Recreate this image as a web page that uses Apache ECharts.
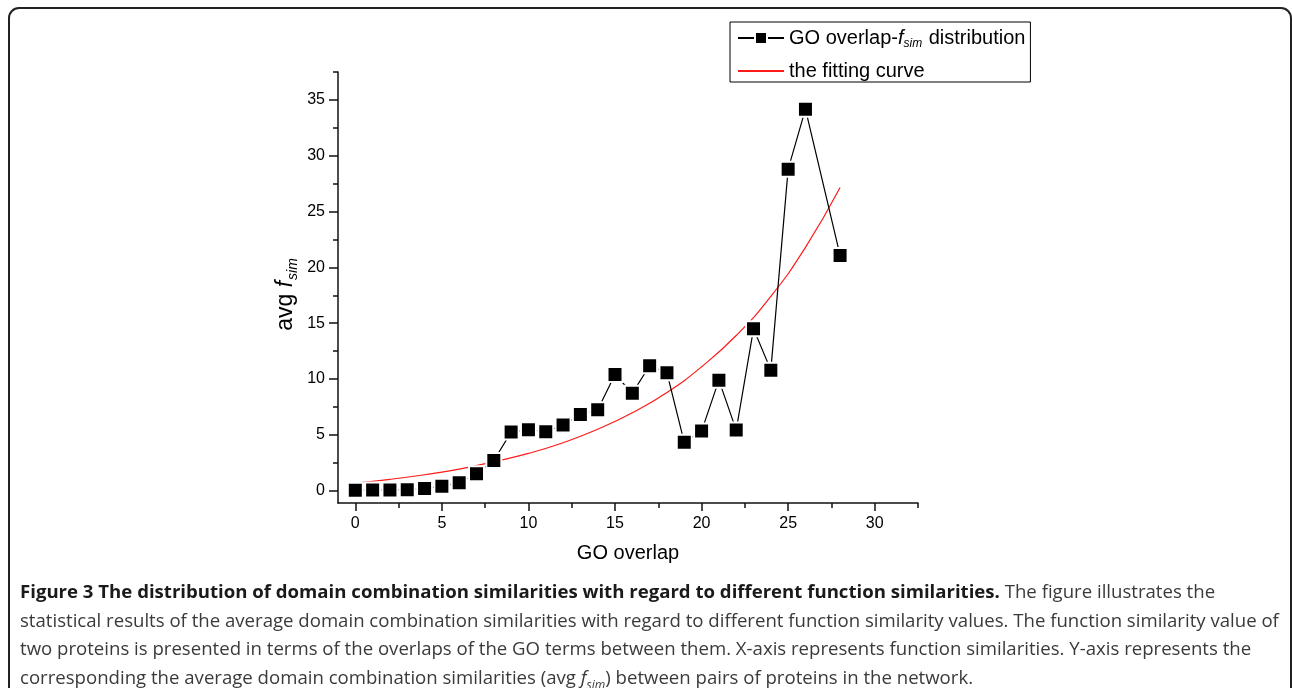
<!DOCTYPE html>
<html>
<head>
<meta charset="utf-8">
<script src="https://cdn.jsdelivr.net/npm/echarts@6/dist/echarts.min.js"></script>
<style>
	html, body {
		margin: 0;
		padding: 0;
		background: #fff;
	}
	.frame {
		position: absolute;
		left: 8px;
		top: 7px;
		right: 0;
		bottom: -30px;
		border: 2px solid #222;
		border-radius: 11px;
	}
	#myChart {
		position: absolute;
		left: 0;
		top: 0;
		width: 1292px;
		height: 688px;
	}
	.caption {
		position: absolute;
		left: 20px;
		top: 577px;
		font-family: "Open Sans", "Noto Sans", sans-serif;
		font-size: 18.6px;
		line-height: 28.6px;
		color: #3a3a3a;
		white-space: nowrap;
	}
	.caption b {
		color: #1a1a1a;
	}
	.caption sub {
		font-size: 12px;
		line-height: 0;
	}
</style>
</head>
<body>
<div class="frame"></div>
<div id="myChart"></div>
<div class="caption">
	<b>Figure 3 The distribution of domain combination similarities with regard to different function similarities.</b> The figure illustrates the<br>
	statistical results of the average domain combination similarities with regard to different function similarity values. The function similarity value of<br>
	two proteins is presented in terms of the overlaps of the GO terms between them. X-axis represents function similarities. Y-axis represents the<br>
	corresponding the average domain combination similarities (avg <i>f<sub>sim</sub></i>) between pairs of proteins in the network.
</div>

<script>
// GO overlap values and the average f_sim
const goOverlap = [0, 1, 2, 3, 4, 5, 6, 7, 8, 9, 10, 11, 12, 13, 14, 15, 16, 17, 18, 19, 20, 21, 22, 23, 24, 25, 26, 28];
const avgFsim = [0.05, 0.06, 0.07, 0.09, 0.2, 0.39, 0.72, 1.52, 2.71, 5.25, 5.46, 5.28, 5.88, 6.83, 7.25, 10.41, 8.74, 11.19, 10.56, 4.33, 5.34, 9.9, 5.43, 14.5, 10.8, 28.8, 34.17, 21.07];

// fitting curve
const fitX = [0, 2, 4, 6, 8, 10, 12, 14, 16, 18, 20, 22, 24, 26, 28];
const fitY = [0.69, 1.02, 1.43, 1.93, 2.6, 3.34, 4.3, 5.5, 6.98, 8.8, 11.1, 13.9, 17.4, 21.8, 27.15];

// tick labels
const xTicks = [0, 5, 10, 15, 20, 25, 30];
const xMinorTicks = [2.5, 7.5, 12.5, 17.5, 22.5, 27.5, 32.5];
const yTicks = [0, 5, 10, 15, 20, 25, 30, 35];
const yMinorTicks = [2.5, 7.5, 12.5, 17.5, 22.5, 27.5, 32.5, 37.5];

const X_MIN = -1, X_MAX = 32.5;
const Y_MIN = -1.1, Y_MAX = 37.5;

const myChart = echarts.init(document.getElementById('myChart'));

const axisColor = '#111';
const fontFamily = '"Liberation Sans", Arial, sans-serif';

const option = {
	animation: false,
	textStyle: {
		fontFamily: fontFamily,
	},
	legend: {
		orient: 'vertical',
		left: 730,
		top: 22,
		padding: [6, 5, 1, 7],
		itemGap: 11,
		itemWidth: 46,
		itemHeight: 15,
		borderColor: '#000',
		borderWidth: 1,
		data: [
			{ name: 'GO overlap-fsim distribution' },
			{ name: 'the fitting curve', itemStyle: { opacity: 0 } },
		],
		formatter: function (name) {
			if (name === 'GO overlap-fsim distribution') {
				return 'GO overlap-{it|f}{sub|sim} distribution';
			}
			return name;
		},
		textStyle: {
			color: '#000',
			fontSize: 20,
			fontFamily: fontFamily,
			rich: {
				it: {
					fontSize: 20,
					fontStyle: 'italic',
					fontFamily: fontFamily,
				},
				sub: {
					fontSize: 12,
					fontStyle: 'italic',
					fontFamily: fontFamily,
					padding: [12, 1, 0, 0],
				},
			},
		},
	},
	grid: {
		left: 338,
		right: 374,
		top: 72,
		bottom: 185,
		containLabel: false,
	},
	xAxis: [
		{
			type: 'value',
			min: X_MIN,
			max: X_MAX,
			name: 'GO overlap',
			nameLocation: 'middle',
			nameGap: 40,
			nameTextStyle: {
				color: '#000',
				fontSize: 20,
			},
			splitLine: { show: false },
			axisLine: {
				onZero: false,
				lineStyle: { color: axisColor, width: 1.5 },
			},
			axisTick: {
				customValues: xTicks,
				length: 8,
				lineStyle: { color: axisColor, width: 1.5 },
			},
			axisLabel: {
				customValues: xTicks,
				margin: 13,
				color: '#000',
				fontSize: 16,
			},
		},
		{
			// minor ticks only
			type: 'value',
			position: 'bottom',
			min: X_MIN,
			max: X_MAX,
			splitLine: { show: false },
			axisLine: { show: false, onZero: false },
			axisLabel: { show: false },
			axisTick: {
				customValues: xMinorTicks,
				length: 5,
				lineStyle: { color: axisColor, width: 1.5 },
			},
		},
	],
	yAxis: [
		{
			type: 'value',
			min: Y_MIN,
			max: Y_MAX,
			name: 'avg {it|f}{sub|sim}',
			nameLocation: 'middle',
			nameRotate: 90,
			nameGap: 38,
			nameTextStyle: {
				color: '#000',
				fontSize: 23,
				padding: [0, 14, 0, 0],
				rich: {
					it: {
						fontSize: 23,
						fontStyle: 'italic',
						fontFamily: fontFamily,
					},
					sub: {
						fontSize: 14,
						fontStyle: 'italic',
						fontFamily: fontFamily,
						padding: [15, 0, 0, 1],
					},
				},
			},
			splitLine: { show: false },
			axisLine: {
				onZero: false,
				lineStyle: { color: axisColor, width: 1.5 },
			},
			axisTick: {
				customValues: yTicks,
				length: 9,
				lineStyle: { color: axisColor, width: 1.5 },
			},
			axisLabel: {
				customValues: yTicks,
				margin: 13,
				color: '#000',
				fontSize: 16,
			},
		},
		{
			// minor ticks only
			type: 'value',
			position: 'left',
			min: Y_MIN,
			max: Y_MAX,
			splitLine: { show: false },
			axisLine: { show: false, onZero: false },
			axisLabel: { show: false },
			axisTick: {
				customValues: yMinorTicks,
				length: 5,
				lineStyle: { color: axisColor, width: 1.5 },
			},
		},
	],
	series: [
		{
			name: 'GO overlap-fsim distribution',
			type: 'line',
			xAxisIndex: 0,
			yAxisIndex: 0,
			symbol: 'rect',
			symbolSize: 15,
			showAllSymbol: true,
			lineStyle: {
				color: '#000',
				width: 1.2,
			},
			itemStyle: {
				color: '#000',
				borderColor: '#fff',
				borderWidth: 2,
			},
			z: 3,
			data: goOverlap.map((x, i) => [x, avgFsim[i]]),
		},
		{
			name: 'the fitting curve',
			type: 'line',
			xAxisIndex: 0,
			yAxisIndex: 0,
			smooth: true,
			symbol: 'none',
			lineStyle: {
				color: '#ff1a1a',
				width: 1.2,
			},
			itemStyle: {
				color: '#ff1a1a',
			},
			z: 2,
			data: fitX.map((x, i) => [x, fitY[i]]),
		},
	],
};

myChart.setOption(option);
</script>
</body>
</html>
